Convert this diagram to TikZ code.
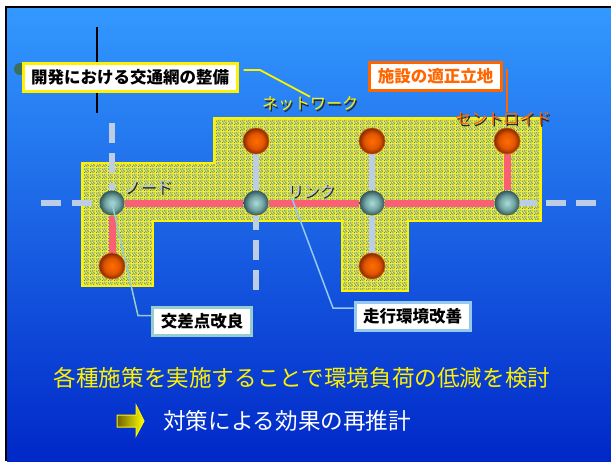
\documentclass[tikz,border=0pt]{standalone}
\usepackage{fontspec}
\setmainfont{Noto Sans CJK JP}
\usepackage{tikz}
\usetikzlibrary{positioning, patterns, backgrounds}
\definecolor{bgtop}{RGB}{51,153,255}
\definecolor{bgbottom}{RGB}{0,40,200}
\definecolor{areafill}{RGB}{245,240,40}
\definecolor{areadot}{RGB}{60,120,210}
\definecolor{roadgray}{RGB}{190,205,230}
\definecolor{linkred}{RGB}{250,95,115}
\definecolor{ballhi}{RGB}{170,220,215}
\definecolor{ballmid}{RGB}{115,165,165}
\definecolor{balledge}{RGB}{50,85,90}
\definecolor{orangehi}{RGB}{255,110,0}
\definecolor{orangemid}{RGB}{225,85,0}
\definecolor{orangeedge}{RGB}{130,40,0}
\definecolor{orangeline}{RGB}{255,102,0}
\definecolor{tealline}{RGB}{150,205,205}
\definecolor{skyline}{RGB}{150,200,240}
\definecolor{labelgray}{RGB}{185,200,220}
\definecolor{dotgreen}{RGB}{60,110,90}
\definecolor{arrowolive}{RGB}{110,100,0}
\pgfdeclareradialshading{greyball}{\pgfpoint{0bp}{0bp}}{color(0bp)=(ballhi); color(14bp)=(ballmid); color(25bp)=(balledge); color(50bp)=(balledge)}
\pgfdeclareradialshading{orangeball}{\pgfpoint{0bp}{0bp}}{color(0bp)=(orangehi); color(15bp)=(orangemid); color(25bp)=(orangeedge); color(50bp)=(orangeedge)}
\pgfdeclarepatternformonly{speckle}{\pgfpointorigin}{\pgfqpoint{6pt}{6pt}}{\pgfqpoint{6pt}{6pt}}{
  \foreach \px/\py in {0/0,3/0,5/1,1/2,4/3,0/4,3/5,2/4,5/5,2/1,4/2}
    {\pgfpathrectangle{\pgfqpoint{\px pt}{\py pt}}{\pgfqpoint{1pt}{1pt}}}
  \pgfusepath{fill}}

\begin{document}
\begin{tikzpicture}[x=1pt, y=-1pt,
    nodeball/.style={circle, minimum size=25pt, inner sep=0pt, shading=greyball},
    centroidball/.style={circle, minimum size=26pt, inner sep=0pt, shading=orangeball, draw=orangeline!80!black, line width=0.6pt},
    roadline/.style={draw=roadgray, line width=6pt},
    linkline/.style={draw=linkred, line width=7pt},
    callbox/.style={fill=white, line width=3pt, inner xsep=8pt, minimum height=28pt, font=\fontsize{16.5}{18}\selectfont\bfseries},
    katalabel/.style={inner sep=0pt, font=\fontsize{16}{18}\selectfont},
    katashadow/.style={katalabel, text=black!85, xshift=1.3pt, yshift=-1.3pt}]
  \useasboundingbox (0,0) rectangle (611,461);
  \node[nodeball] (n1) at (112,203) {};
  \node[nodeball] (n2) at (256,203) {};
  \node[nodeball] (n3) at (372,203) {};
  \node[nodeball] (n4) at (507,203) {};
  \node[centroidball] (c1) at (112,266) {};
  \node[centroidball] (c2) at (256,141) {};
  \node[centroidball] (c3) at (372,141) {};
  \node[centroidball] (c4) at (507,141) {};
  \node[centroidball] (c5) at (372,266) {};
  \coordinate (roadN) at (112,123);
  \coordinate (roadW) at (41,203);
  \coordinate (roadS) at (256,290);
  \coordinate (roadE) at (537,203);
  \coordinate (roadE1) at (546,203);
  \coordinate (roadE2) at (597,203);
  \begin{scope}[on background layer]
    \fill[white] (0,0) rectangle (611,461);
    \fill[top color=bgtop, bottom color=bgbottom] (7,8) rectangle (611,461);
    \draw[black, line width=2.5pt] (6,461) -- (6,7) -- (611,7);
    \draw[preaction={fill=areafill}, pattern=speckle, pattern color=areadot, draw=yellow, line width=2pt]
      (82,163) -| (214,118) -| (541,221) -| (408,291) -| (342,221) -| (153,286) -| (82,163) -- cycle;
    \draw[roadline] (c2) -- (n2) (c3) -- (n3) (n3) -- (c5) (n4) -- (roadE);
    \draw[roadline, dash pattern=on 20pt off 10pt] (roadN) -- (n1) (roadS) -- (n2) (roadE1) -- (roadE2);
    \draw[roadline, dash pattern=on 20pt off 11pt] (roadW) -- (n1);
    \draw[linkline] (c1) -- (n1) (n1) -- (n2) (n2) -- (n3) (n3) -- (n4) (n4) -- (c4);
  \end{scope}
  \draw[black, line width=2pt] (97,27) -- (97,113);
  \fill[dotgreen] (20,69) circle (6pt);
  \node[callbox, draw=yellow] (devnet) at (130,77) {開発における交通網の整備};
  \node[callbox, draw=orangeline, text=orangeline] (siting) at (435.5,76.5) {施設の適正立地};
  \node[callbox, draw=tealline] (junction) at (202,321.5) {交差点改良};
  \node[callbox, draw=skyline] (driving) at (412.5,316) {走行環境改善};
  \node[katashadow] (networkshadow) at (310,104) {ネットワーク};
  \node[katalabel, text=yellow] (network) at (310,104) {ネットワーク};
  \node[katashadow] (centroidshadow) at (503,119) {セントロイド};
  \node[katalabel, text=orangeline] (centroid) at (503,119) {セントロイド};
  \node[katashadow] (nodeshadow) at (148,187) {ノード};
  \node[katalabel, text=labelgray] (nodelabel) at (148,187) {ノード};
  \node[katashadow] (linkshadow) at (311,191) {リンク};
  \node[katalabel, text=labelgray] (link) at (311,191) {リンク};
  \coordinate (netbend) at (260,70);
  \coordinate (junctionbend) at (138,315.5);
  \coordinate (drivingbend) at (333,308);
  \draw[yellow, line width=1.8pt] ([xshift=5pt, yshift=7pt]devnet.east) -- (netbend) -- (network.north);
  \draw[orangeline, line width=2pt] ([xshift=4pt, yshift=8pt]siting.east) -- ([xshift=4pt]siting.east |- centroid.north);
  \draw[tealline, line width=1.5pt] (n1.center) -- (junctionbend) -- ([yshift=6pt]junction.west);
  \draw[skyline, line width=1.5pt] ([xshift=5pt]link.south west) -- (drivingbend) -- ([yshift=8pt]driving.west);
  \node[inner sep=0pt, text=yellow, font=\fontsize{22.6}{25}\selectfont] (summary) at (302,378) {各種施策を実施することで環境負荷の低減を検討};
  \draw[yellow, line width=1pt, left color=arrowolive, right color=yellow]
    (117,415) -- (136,415) -- (136,405) -- (144,421) -- (136,436) -- (136,427) -- (117,427) -- cycle;
  \node[inner sep=0pt, text=white, anchor=west, font=\fontsize{22.6}{25}\selectfont] (result) at (163,421) {対策による効果の再推計};
\end{tikzpicture}
\end{document}
